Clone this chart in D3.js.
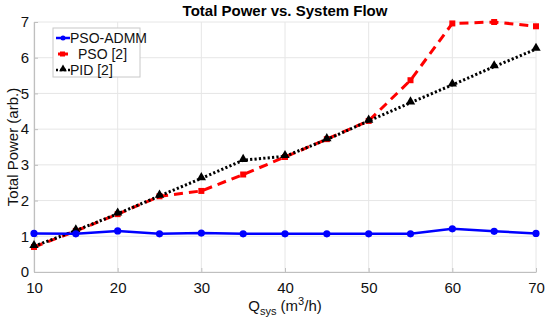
<!DOCTYPE html>
<html>
<head>
<meta charset="utf-8">
<script src="https://cdn.jsdelivr.net/npm/d3@7"></script>
<style>
  body { margin: 0; background: #fff; }
  text { font-family: "Liberation Sans", Arial, sans-serif; }
</style>
</head>
<body>
<div id="graph"></div>
<script>
// data
var flows = [10, 15, 20, 25, 30, 35, 40, 45, 50, 55, 60, 65, 70]
var psoAdmm = [1.08, 1.07, 1.15, 1.07, 1.09, 1.07, 1.07, 1.07, 1.07, 1.07, 1.21, 1.14, 1.08]
var pso = [0.7, 1.15, 1.62, 2.12, 2.27, 2.73, 3.22, 3.72, 4.23, 5.37, 6.96, 7.0, 6.88]
var pid = [0.72, 1.16, 1.63, 2.13, 2.62, 3.13, 3.24, 3.71, 4.23, 4.74, 5.24, 5.75, 6.24]
var xTicks = [10, 20, 30, 40, 50, 60, 70]
var yTicks = [0, 1, 2, 3, 4, 5, 6, 7]
var seriesNames = ["PSO-ADMM", "PSO [2]", "PID [2]"]

var w = 550, h = 325
var m = {left: 34, right: 14, top: 22, bottom: 53}

var svg = d3.select("#graph").append("svg")
    .attr("width", w)
    .attr("height", h)

var x = d3.scaleLinear().domain([10, 70]).range([m.left, w - m.right])
var y = d3.scaleLinear().domain([0, 7]).range([h - m.bottom, m.top])

// grid
var grid = svg.append("g").attr("stroke", "#e6e6e6").attr("stroke-width", 1)
xTicks.forEach(function(t) {
    grid.append("line")
        .attr("x1", x(t)).attr("x2", x(t))
        .attr("y1", y(0)).attr("y2", y(7))
})
yTicks.forEach(function(t) {
    grid.append("line")
        .attr("x1", x(10)).attr("x2", x(70))
        .attr("y1", y(t)).attr("y2", y(t))
})

// axes (matlab style, inward ticks)
var xAxis = svg.append("g")
    .attr("transform", "translate(0," + y(0) + ")")
    .call(d3.axisBottom(x).tickValues(xTicks).tickFormat(d3.format("d"))
        .tickSizeInner(-4).tickSizeOuter(0).tickPadding(7))
var yAxis = svg.append("g")
    .attr("transform", "translate(" + x(10) + ",0)")
    .call(d3.axisLeft(y).tickValues(yTicks).tickFormat(d3.format("d"))
        .tickSizeInner(-4).tickSizeOuter(0).tickPadding(5))

;[xAxis, yAxis].forEach(function(a) {
    a.select(".domain").attr("stroke", "#bfbfbf").attr("stroke-width", 1.2)
    a.selectAll(".tick line").attr("stroke", "#bfbfbf")
    a.selectAll(".tick text").attr("font-size", 15).attr("fill", "#111")
        .style("font-family", "Liberation Sans, Arial, sans-serif")
})
xAxis.selectAll(".tick text").attr("dy", "0.9em")

// series
var line = d3.line()
    .x(function(d, i) { return x(flows[i]) })
    .y(function(d) { return y(d) })

var plot = svg.append("g")

plot.append("path").datum(pso)
    .attr("d", line).attr("fill", "none")
    .attr("stroke", "#ff0000").attr("stroke-width", 3)
    .attr("stroke-dasharray", "9,6")
plot.selectAll("rect.pso").data(pso).enter().append("rect")
    .attr("class", "pso")
    .attr("x", function(d, i) { return x(flows[i]) - 3 })
    .attr("y", function(d) { return y(d) - 3 })
    .attr("width", 6).attr("height", 6)
    .attr("fill", "#ff0000")

plot.append("path").datum(pid)
    .attr("d", line).attr("fill", "none")
    .attr("stroke", "#000").attr("stroke-width", 3)
    .attr("stroke-dasharray", "2.2,2.2")
var tri = d3.symbol().type(d3.symbolTriangle).size(38)
plot.selectAll("path.pid").data(pid).enter().append("path")
    .attr("class", "pid")
    .attr("d", tri)
    .attr("transform", function(d, i) { return "translate(" + x(flows[i]) + "," + (y(d) - 1) + ")" })
    .attr("fill", "#000")

plot.append("path").datum(psoAdmm)
    .attr("d", line).attr("fill", "none")
    .attr("stroke", "#0000ff").attr("stroke-width", 2.5)
plot.selectAll("circle.admm").data(psoAdmm).enter().append("circle")
    .attr("class", "admm")
    .attr("cx", function(d, i) { return x(flows[i]) })
    .attr("cy", function(d) { return y(d) })
    .attr("r", 3.6)
    .attr("fill", "#0000ff")

// title
svg.append("text")
    .attr("x", (x(10) + x(70)) / 2).attr("y", 16)
    .attr("text-anchor", "middle")
    .attr("font-size", 15).attr("font-weight", "bold")
    .text("Total Power vs. System Flow")

// axis labels
var xl = svg.append("text")
    .attr("x", (x(10) + x(70)) / 2).attr("y", 311)
    .attr("text-anchor", "middle")
    .attr("font-size", 15).attr("fill", "#111")
xl.append("tspan").text("Q")
xl.append("tspan").attr("font-size", 11).attr("dy", 4).text("sys")
xl.append("tspan").attr("dy", -4).text(" (m")
xl.append("tspan").attr("font-size", 11).attr("dy", -6).text("3")
xl.append("tspan").attr("dy", 6).text("/h)")

svg.append("text")
    .attr("transform", "translate(18," + ((y(0) + y(7)) / 2) + ") rotate(-90)")
    .attr("text-anchor", "middle")
    .attr("font-size", 15).attr("fill", "#111")
    .text("Total Power (arb.)")

// legend
var lg = svg.append("g").attr("transform", "translate(53,28)")
lg.append("rect")
    .attr("width", 87).attr("height", 49)
    .attr("fill", "#fff").attr("stroke", "#c8c8c8").attr("stroke-width", 1)

var rows = lg.selectAll("g.row").data(seriesNames).enter().append("g")
    .attr("class", "row")
    .attr("transform", function(d, i) { return "translate(0," + (10 + i * 16) + ")" })

rows.append("text")
    .attr("x", function(d, i) { return i == 1 ? 25 : 17 })
    .attr("y", 5)
    .attr("font-size", 14).attr("fill", "#111")
    .text(function(d) { return d })

var r0 = rows.filter(function(d, i) { return i == 0 })
r0.append("line").attr("x1", 3).attr("x2", 17).attr("stroke", "#0000ff").attr("stroke-width", 2.5)
r0.append("circle").attr("cx", 10).attr("r", 2.5).attr("fill", "#0000ff")

var r1 = rows.filter(function(d, i) { return i == 1 })
r1.append("line").attr("x1", 5).attr("x2", 15).attr("stroke", "#ff0000").attr("stroke-width", 3)
r1.append("rect").attr("x", 7).attr("y", -2.5).attr("width", 5).attr("height", 5).attr("fill", "#ff0000")

var r2 = rows.filter(function(d, i) { return i == 2 })
r2.append("line").attr("x1", 3).attr("x2", 17).attr("stroke", "#000").attr("stroke-width", 2.5)
    .attr("stroke-dasharray", "2,2")
r2.append("path").attr("d", d3.symbol().type(d3.symbolTriangle).size(26))
    .attr("transform", "translate(10,-1)").attr("fill", "#000")
</script>
</body>
</html>
